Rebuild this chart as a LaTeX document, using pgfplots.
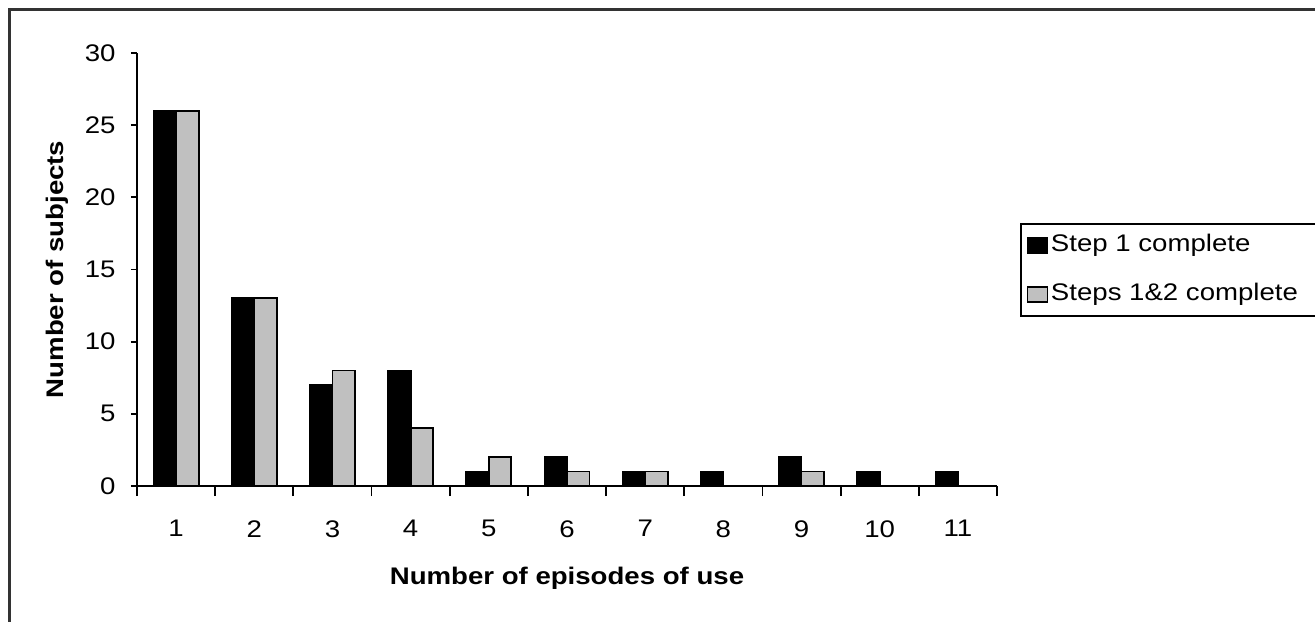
\documentclass[border=0pt]{standalone}
\usepackage{pgfplots}
\pgfplotsset{compat=1.18}
\usepackage{fontspec}
\setmainfont{Liberation Sans}[FakeStretch=1.15]
\begin{document}
\fontsize{12pt}{14pt}\selectfont
\begin{tikzpicture}
\useasboundingbox (0,0) rectangle (657.5pt,310.5pt);
\draw[line width=1.1pt, black!80] (4.75pt,-20pt) -- (4.75pt,305.75pt) -- (700pt,305.75pt);
\begin{axis}[
  at={(68.5pt,67.5pt)}, anchor=south west,
  scale only axis, width=430pt, height=216.5pt,
  axis lines=left, axis line style={-, line width=0.9pt},
  ybar,
  bar width=0.288,
  xmin=0.5, xmax=11.5, ymin=0, ymax=30,
  ytick={0,5,...,30},
  xtick={1,...,11},
  minor xtick={0.5,1.5,...,11.5},
  major x tick style={draw=none},
  tick align=outside,
  major tick length=3pt, minor tick length=5pt,
  tick style={line width=0.9pt, black},
  /pgf/number format/assume math mode=true,
  yticklabel shift=3.5pt,
  xticklabel shift=10pt,
  every axis x label/.style={at={(axis description cs:0.5,0)}, anchor=center, yshift=-46pt},
  every axis y label/.style={at={(axis description cs:0,0.5)}, xshift=-40pt, rotate=90, anchor=center},
  xlabel={\bfseries Number of episodes of use},
  ylabel={\bfseries Number of subjects},
  legend style={at={(axis description cs:1.0267,0.607)}, anchor=north west,
    draw=black, line width=0.8pt, inner xsep=3pt, inner ysep=2.5pt,
    row sep=8pt,
    nodes={inner xsep=1.5pt, inner ysep=3pt, text height=8.5pt, text depth=2pt, anchor=west}},
  legend cell align=left,
]
\addplot[fill=black, draw=black, line width=0.9pt, bar shift=-0.144,
  legend image code/.code={\draw[fill=black, draw=black, line width=0.6pt] (0pt,-3.75pt) rectangle (10pt,3.75pt);}]
  coordinates {(1,26) (2,13) (3,7) (4,8) (5,1) (6,2) (7,1) (8,1) (9,2) (10,1) (11,1)};
\addlegendentry{Step 1 complete}
\addplot[fill={rgb,255:red,192;green,192;blue,192}, draw=black, line width=0.9pt, bar shift=0.144,
  legend image code/.code={\draw[fill={rgb,255:red,192;green,192;blue,192}, draw=black, line width=0.6pt] (0pt,-3.75pt) rectangle (10pt,3.75pt);}]
  coordinates {(1,26) (2,13) (3,8) (4,4) (5,2) (6,1) (7,1) (9,1)};
\addlegendentry{Steps 1\&2 complete\hspace*{30pt}}
\end{axis}
\end{tikzpicture}
\end{document}
